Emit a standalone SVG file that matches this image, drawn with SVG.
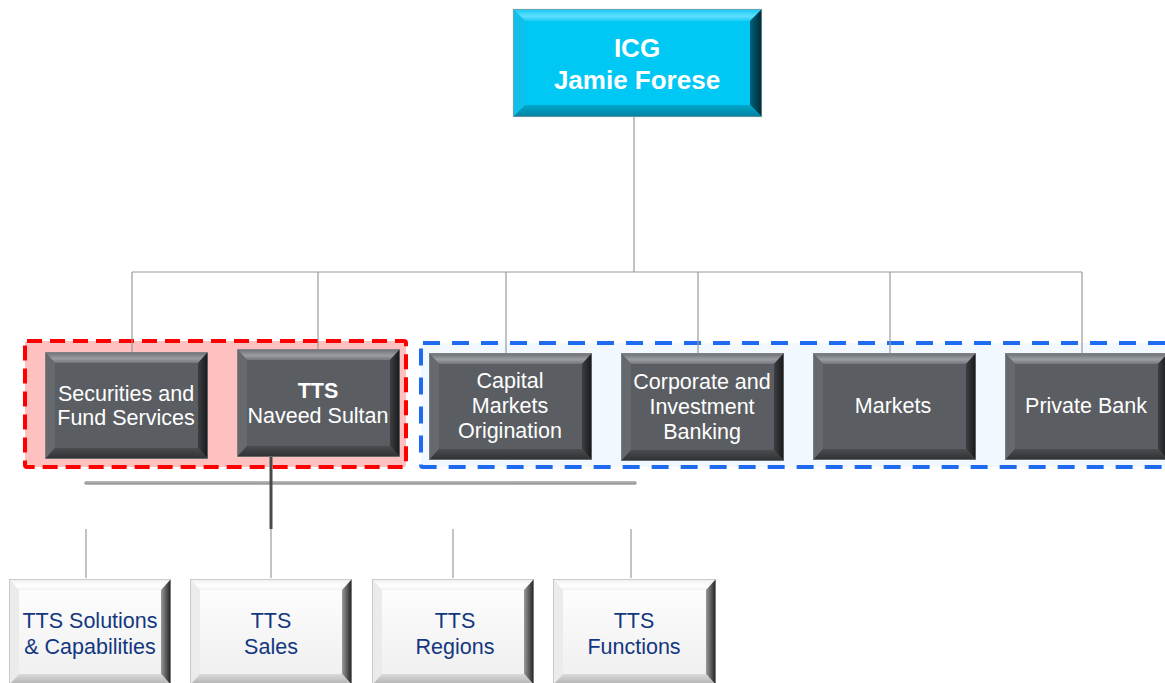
<svg xmlns="http://www.w3.org/2000/svg" xmlns:xlink="http://www.w3.org/1999/xlink" width="1165" height="683" viewBox="0 0 1165 683">
<style>
.gt{font-family:"Liberation Sans",Arial,sans-serif;font-size:21.5px;fill:#FFFFFF;text-anchor:middle}
.wt{font-family:"Liberation Sans",Arial,sans-serif;font-size:21.5px;fill:#13377F;text-anchor:middle}
.ct{font-family:"Liberation Sans",Arial,sans-serif;font-size:26px;font-weight:bold;fill:#FFFFFF;text-anchor:middle}
.thin{stroke:#9A9A9A;stroke-width:1.2;fill:none}
</style>
<defs>
<linearGradient id="gTop" x1="0" y1="0" x2="0" y2="1"><stop offset="0" stop-color="#6A6D71"/><stop offset="0.6" stop-color="#9A9DA1"/><stop offset="1" stop-color="#72757A"/></linearGradient>
<linearGradient id="gRight" x1="0" y1="0" x2="1" y2="0"><stop offset="0" stop-color="#3C3E41"/><stop offset="1" stop-color="#17181A"/></linearGradient>
<linearGradient id="gBot" x1="0" y1="0" x2="0" y2="1"><stop offset="0" stop-color="#4A4C50"/><stop offset="1" stop-color="#2E3033"/></linearGradient>
<linearGradient id="cTop" x1="0" y1="0" x2="0" y2="1"><stop offset="0" stop-color="#12C6F0"/><stop offset="0.6" stop-color="#5EE0FF"/><stop offset="1" stop-color="#1ACCF5"/></linearGradient>
<linearGradient id="cRight" x1="0" y1="0" x2="1" y2="0"><stop offset="0" stop-color="#00627A"/><stop offset="1" stop-color="#002A36"/></linearGradient>
<linearGradient id="cBot" x1="0" y1="0" x2="0" y2="1"><stop offset="0" stop-color="#00A8CC"/><stop offset="1" stop-color="#00809E"/></linearGradient>
<linearGradient id="wTop" x1="0" y1="0" x2="0" y2="1"><stop offset="0" stop-color="#EDEDED"/><stop offset="0.6" stop-color="#FFFFFF"/><stop offset="1" stop-color="#F2F2F2"/></linearGradient>
<linearGradient id="wRight" x1="0" y1="0" x2="1" y2="0"><stop offset="0" stop-color="#9A9A9A"/><stop offset="1" stop-color="#1E1E1E"/></linearGradient>
<linearGradient id="wBot" x1="0" y1="0" x2="0" y2="1"><stop offset="0" stop-color="#DADADA"/><stop offset="1" stop-color="#B0B0B0"/></linearGradient>
<linearGradient id="wFace" x1="0" y1="0" x2="0" y2="1"><stop offset="0" stop-color="#FDFDFD"/><stop offset="1" stop-color="#F0F0F0"/></linearGradient>
<symbol id="grayBox" viewBox="0 0 163 107" preserveAspectRatio="none">
<rect x="0" y="0" width="163" height="107" fill="#5A5D62"/>
<polygon points="0,0 163,0 153,11 10,11" fill="url(#gTop)"/>
<polygon points="0,0 10,11 10,96 0,107" fill="#66696D"/>
<polygon points="163,0 153,11 153,96 163,107" fill="url(#gRight)"/>
<polygon points="0,107 10,96 153,96 163,107" fill="url(#gBot)"/>
<rect x="10" y="11" width="143" height="85" fill="#5A5D62"/>
<rect x="0.3" y="0.3" width="162.4" height="106.4" fill="none" stroke="#8C8C8C" stroke-width="0.6"/>
</symbol>
<symbol id="whiteBox" viewBox="0 0 162 106" preserveAspectRatio="none">
<rect x="0" y="0" width="162" height="106" fill="#F6F6F6"/>
<polygon points="0,0 162,0 152,11 10,11" fill="url(#wTop)"/>
<polygon points="0,0 10,11 10,95 0,106" fill="#EBEBEB"/>
<polygon points="162,0 152,11 152,95 162,106" fill="url(#wRight)"/>
<polygon points="0,106 10,95 152,95 162,106" fill="url(#wBot)"/>
<rect x="10" y="11" width="142" height="84" fill="url(#wFace)"/>
<rect x="0.3" y="0.3" width="161.4" height="105.4" fill="none" stroke="#B4B4B4" stroke-width="0.6"/>
</symbol>
</defs>
<rect x="0" y="0" width="1165" height="683" fill="#FFFFFF"/>

<g id="group-red">
<rect x="25" y="341" width="381" height="126" rx="2" fill="#FFC0C0" stroke="#FF0000" stroke-width="4" stroke-dasharray="15,8"/>
</g>
<g id="group-blue">
<rect x="421" y="343" width="760" height="124" rx="2" fill="#F1F8FF" stroke="#1E6BF2" stroke-width="4" stroke-dasharray="17,12"/>
</g>

<g id="connectors">
<line class="thin" x1="634" y1="117" x2="634" y2="272"/>
<line class="thin" x1="132" y1="272" x2="1082" y2="272"/>
<line class="thin" x1="132" y1="272" x2="132" y2="352"/>
<line class="thin" x1="318" y1="272" x2="318" y2="349"/>
<line class="thin" x1="506" y1="272" x2="506" y2="353"/>
<line class="thin" x1="698" y1="272" x2="698" y2="353"/>
<line class="thin" x1="890" y1="272" x2="890" y2="353"/>
<line class="thin" x1="1082" y1="272" x2="1082" y2="353"/>
<line x1="86" y1="483" x2="635" y2="483" stroke="#9C9C9C" stroke-width="3.5" stroke-linecap="round"/>
<line x1="86" y1="482" x2="635" y2="482" stroke="#B8B8B8" stroke-width="1"/>
<line x1="271" y1="457" x2="271" y2="529" stroke="#4A4A4A" stroke-width="3"/>
<line class="thin" x1="86" y1="529" x2="86" y2="578"/>
<line class="thin" x1="271" y1="529" x2="271" y2="578"/>
<line class="thin" x1="453" y1="529" x2="453" y2="578"/>
<line class="thin" x1="631" y1="529" x2="631" y2="578"/>
</g>

<g id="node-icg">
<rect x="513" y="9" width="249" height="108" fill="#00C8F5"/>
<polygon points="513,9 762,9 750,21 525,21" fill="url(#cTop)"/>
<polygon points="513,9 525,21 525,105 513,117" fill="#10C0EA"/>
<polygon points="762,9 750,21 750,105 762,117" fill="url(#cRight)"/>
<polygon points="513,117 525,105 750,105 762,117" fill="url(#cBot)"/>
<rect x="525" y="21" width="225" height="84" fill="#00C8F5"/>
<rect x="513.3" y="9.3" width="248.4" height="107.4" fill="none" stroke="#8A9AA0" stroke-width="0.8"/>
<text class="ct" x="637" y="57">ICG</text>
<text class="ct" x="637" y="89">Jamie Forese</text>
</g>

<g id="node-sfs">
<use xlink:href="#grayBox" x="45" y="352" width="163" height="107"/>
<text class="gt" x="126" y="401">Securities and</text>
<text class="gt" x="126" y="425">Fund Services</text>
</g>
<g id="node-tts">
<use xlink:href="#grayBox" x="237" y="349" width="163" height="108"/>
<text class="gt" x="318" y="398" font-weight="bold">TTS</text>
<text class="gt" x="318" y="423">Naveed Sultan</text>
</g>
<g id="node-cmo">
<use xlink:href="#grayBox" x="429" y="353" width="163" height="107"/>
<text class="gt" x="510" y="388">Capital</text>
<text class="gt" x="510" y="413">Markets</text>
<text class="gt" x="510" y="438">Origination</text>
</g>
<g id="node-cib">
<use xlink:href="#grayBox" x="621" y="353" width="163" height="108"/>
<text class="gt" x="702" y="389">Corporate and</text>
<text class="gt" x="702" y="414">Investment</text>
<text class="gt" x="702" y="439">Banking</text>
</g>
<g id="node-markets">
<use xlink:href="#grayBox" x="813" y="353" width="163" height="107"/>
<text class="gt" x="893" y="413">Markets</text>
</g>
<g id="node-pb">
<use xlink:href="#grayBox" x="1005" y="353" width="163" height="107"/>
<text class="gt" x="1086" y="413">Private Bank</text>
</g>

<g id="node-tts-sc">
<use xlink:href="#whiteBox" x="9" y="579" width="162" height="106"/>
<text class="wt" x="90" y="628">TTS Solutions</text>
<text class="wt" x="90" y="654">&amp; Capabilities</text>
</g>
<g id="node-tts-sales">
<use xlink:href="#whiteBox" x="190" y="579" width="162" height="106"/>
<text class="wt" x="271" y="628">TTS</text>
<text class="wt" x="271" y="654">Sales</text>
</g>
<g id="node-tts-regions">
<use xlink:href="#whiteBox" x="372" y="579" width="162" height="106"/>
<text class="wt" x="455" y="628">TTS</text>
<text class="wt" x="455" y="654">Regions</text>
</g>
<g id="node-tts-functions">
<use xlink:href="#whiteBox" x="553" y="579" width="163" height="106"/>
<text class="wt" x="634" y="628">TTS</text>
<text class="wt" x="634" y="654">Functions</text>
</g>
</svg>
